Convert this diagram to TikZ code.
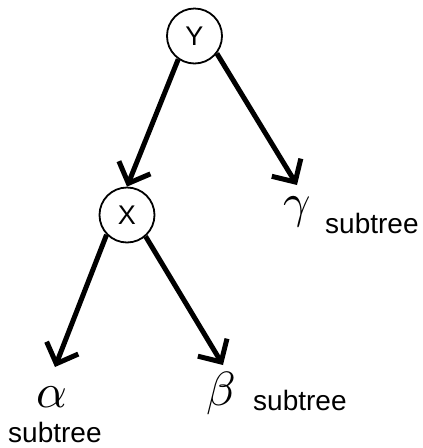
\documentclass[tikz,border=0pt]{standalone}
\usepackage{fontspec}
\usepackage{unicode-math}
\setmainfont{Liberation Sans}
\setmathfont{Latin Modern Math}
\usetikzlibrary{arrows.meta}
\begin{document}
\begin{tikzpicture}[x=1pt,y=-1pt,
  keynode/.style={draw, circle, line width=1.8pt, minimum size=55pt, inner sep=0pt,
    font=\fontsize{27}{27}\selectfont},
  greek/.style={anchor=base west, inner sep=0pt, font=\fontsize{48}{48}\selectfont},
  sublabel/.style={anchor=base west, inner sep=0pt, font=\fontsize{28}{28}\selectfont},
  edge/.style={line width=5pt, -{Straight Barb[length=17pt,width=34pt]}}]
\useasboundingbox (0,0) rectangle (423,448);
\node[keynode] (Y) at (194.5,36) {Y};
\node[keynode] (X) at (127,215) {X};
\node[greek] (g) at (283,217) {$\gamma$};
\node[sublabel] (gs) at (325,233) {subtree};
\node[greek] (a) at (36,407) {$\alpha$};
\node[sublabel] (as) at (8,442) {subtree};
\node[greek] (b) at (206,405) {$\beta$};
\node[sublabel] (bs) at (253,410) {subtree};
\coordinate (gtip) at (297,185);
\coordinate (atip) at (55,367);
\coordinate (btip) at (223,365);
\draw[edge] (Y.-125) -- (X.north);
\draw[edge] (Y.-38) -- (gtip);
\draw[edge] (X.-136) -- (atip);
\draw[edge] (X.-49) -- (btip);
\end{tikzpicture}
\end{document}
